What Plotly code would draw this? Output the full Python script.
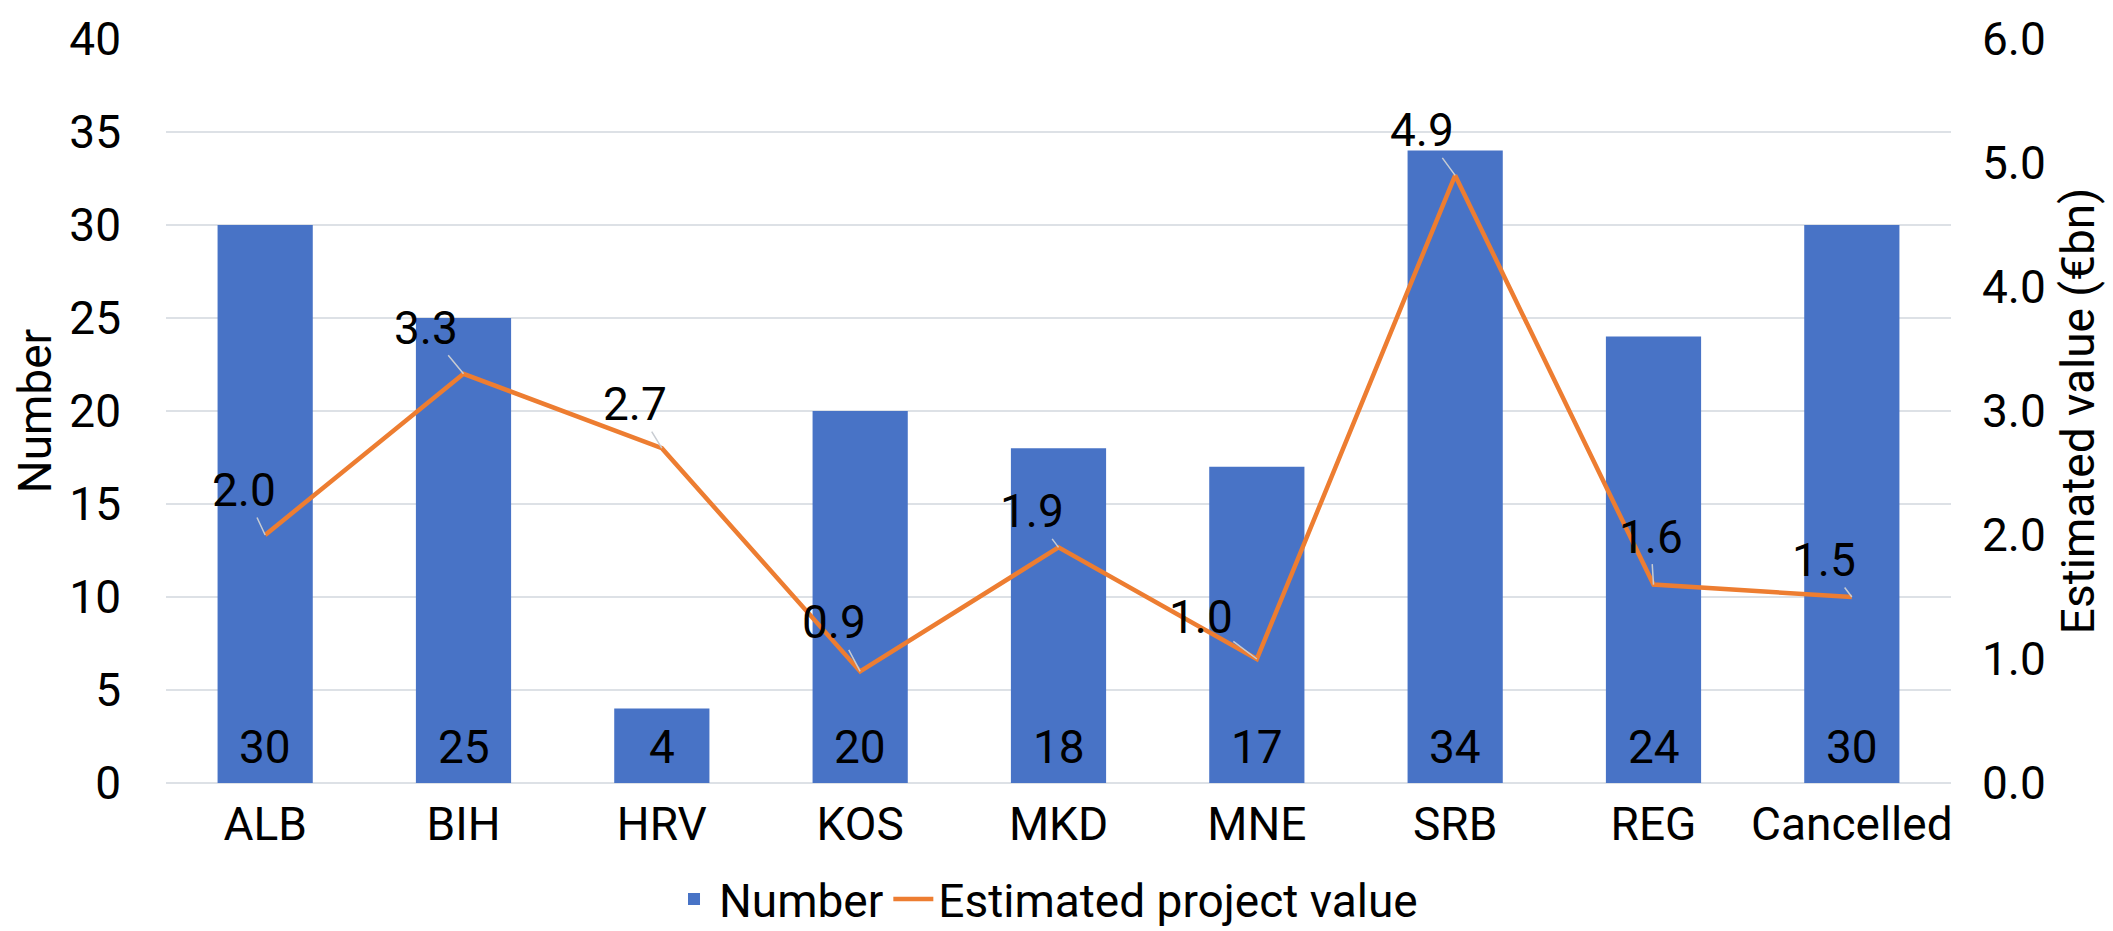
import plotly.graph_objects as go

categories = ["ALB", "BIH", "HRV", "KOS", "MKD", "MNE", "SRB", "REG", "Cancelled"]
number = [30, 25, 4, 20, 18, 17, 34, 24, 30]
est_value = [2.0, 3.3, 2.7, 0.9, 1.9, 1.0, 4.9, 1.6, 1.5]
# label offsets (pixels) for the line data labels, relative to each point
label_dx = [-21, -38, -27, -26, -27, -56, -33, -3, -28]
label_dy = [-45, -46, -44, -49, -36, -42, -45, -48, -37]

FONT = "Liberation Sans Narrow, Arial Narrow, Roboto, sans-serif"
FS = 46

fig = go.Figure()
fig.add_trace(go.Bar(
    x=categories, y=number, name="Number",
    marker=dict(color="#4873C6", line=dict(width=0)),
))
fig.add_trace(go.Scatter(
    x=categories, y=est_value, name="Estimated project value", yaxis="y2",
    mode="lines", line=dict(color="#ED7D31", width=4.5),
))

# bar value labels at the inside base of each bar
for c, n in zip(categories, number):
    fig.add_annotation(
        x=c, y=0, xref="x", yref="y", text=str(n), showarrow=False,
        yanchor="bottom", yshift=8, borderpad=0,
        font=dict(family=FONT, size=FS, color="black"),
    )

# line value labels with leader lines
for c, v, dx, dy in zip(categories, est_value, label_dx, label_dy):
    fig.add_annotation(
        x=c, y=v, xref="x", yref="y2", text=f"{v:.1f}",
        showarrow=True, arrowhead=0, arrowwidth=1.5, arrowcolor="#c8ccd2",
        ax=dx, ay=dy, font=dict(family=FONT, size=FS, color="black"),
        borderpad=0,
    )

fig.update_layout(
    width=2113, height=931,
    margin=dict(l=158, r=170, t=31, b=156, autoexpand=False),
    paper_bgcolor="white", plot_bgcolor="white",
    font=dict(family=FONT, size=FS, color="black"),
    bargap=0.52,
    showlegend=True,
    legend=dict(orientation="h", x=0.493, xanchor="center", y=-0.156, yanchor="middle",
                font=dict(family=FONT, size=FS, color="black"), itemwidth=40,
                tracegroupgap=0),
    xaxis=dict(showgrid=False, showline=False, ticks="", ticklabelstandoff=10,
               tickfont=dict(family=FONT, size=FS)),
    yaxis=dict(range=[0, 40], dtick=5, showgrid=True, gridcolor="#dde1e6", gridwidth=2,
               zeroline=True, zerolinecolor="#dde1e6", zerolinewidth=2,
               showline=False, ticks="", ticklabelstandoff=44,
               tickfont=dict(family=FONT, size=FS),
               title=dict(text="Number", standoff=14, font=dict(family=FONT, size=FS))),
    yaxis2=dict(range=[0, 6], dtick=1, tickformat=".1f", overlaying="y", side="right",
                showgrid=False, zeroline=False, showline=False, ticks="",
                ticklabelstandoff=30, tickfont=dict(family=FONT, size=FS),
                title=dict(text="Estimated value (€bn)", standoff=16,
                           font=dict(family=FONT, size=FS))),
)

fig.write_html("out.html")
